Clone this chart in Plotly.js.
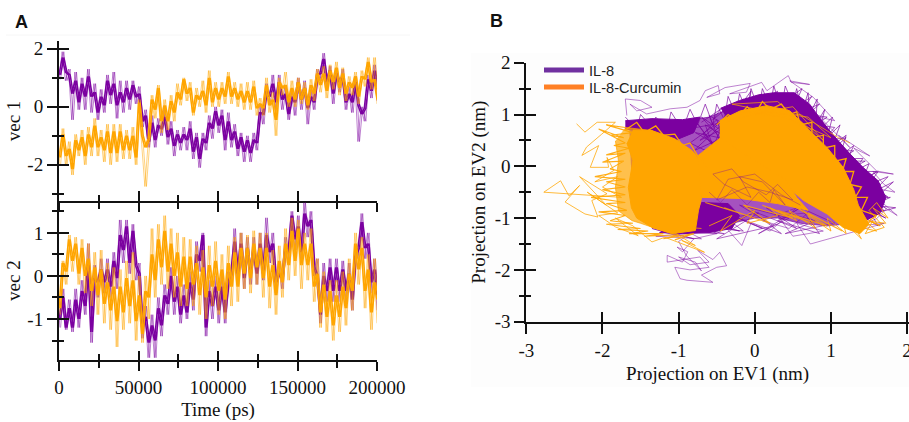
<!DOCTYPE html>
<html>
<head>
<meta charset="utf-8">
<script src="https://cdn.plot.ly/plotly-3.0.1.min.js"></script>
<style>html,body{margin:0;padding:0;background:#fff;}#chart{width:909px;height:422px;}</style>
</head>
<body>
<div id="chart"></div>
<script>
const time = [0,2000,4000,6000,8000,10000,12000,14000,16000,18000,
20000,22000,24000,26000,28000,30000,32000,34000,36000,38000,
40000,42000,44000,46000,48000,50000,52000,54000,56000,58000,
60000,62000,64000,66000,68000,70000,72000,74000,76000,78000,
80000,82000,84000,86000,88000,90000,92000,94000,96000,98000,
100000,102000,104000,106000,108000,110000,112000,114000,116000,118000,
120000,122000,124000,126000,128000,130000,132000,134000,136000,138000,
140000,142000,144000,146000,148000,150000,152000,154000,156000,158000,
160000,162000,164000,166000,168000,170000,172000,174000,176000,178000,
180000,182000,184000,186000,188000,190000,192000,194000,196000,198000,200000];

const vec1PurpleCore = [1.1,1.7,1.2,1.1,.45,.9,.15,.8,.35,1.05,
.35,.5,-.2,.35,.05,.9,.4,.8,.05,.5,
.15,.65,.25,.75,.35,.45,-.5,-.3,-1.2,-.55,
-1.15,-.65,-.75,-.35,-1.05,-.75,-1.35,-.95,-1.25,-.95,
-1.15,-.75,-1.55,-1.05,-1.8,-1.1,-1.25,-.55,-.75,-.15,
-.65,-.3,-1.15,-.5,-1.15,-.85,-1.45,-1.05,-1.55,-1.15,
-1.6,-1.15,-1.25,-.2,-.25,.55,.35,.8,.15,.85,
.25,.45,-.25,.35,.15,.85,.25,.65,-.05,.35,
.15,1.1,1.15,1.65,.85,1.25,.45,1.15,.85,1.05,
.15,.45,.15,.85,.05,-.25,-.05,.95,.55,1.25,.6];
const vec1PurpleSpike = [.95,1.9,.9,1.3,-.45,1.2,-.1,1.0,-.1,1.3,
-.2,.8,-.45,.6,-.2,1.1,.1,1.2,-.4,.9,
-.2,.9,-.1,.9,.1,.7,-.7,-.1,-1.4,-.3,
-1.4,-.4,-1.0,-.1,-1.3,-.5,-1.7,-.8,-1.5,-.7,
-1.5,-.5,-1.8,-.9,-2.1,-.9,-1.5,-.3,-1.1,0,
-.9,-.1,-1.5,-.2,-1.4,-.6,-1.7,-.9,-1.9,-1.0,
-1.9,-.9,-1.5,.1,-.6,.8,.1,1.1,-.1,1.1,
-.1,.7,-.45,.6,-.3,1.0,-.1,.9,-.6,.6,
-.1,1.3,.9,1.85,.6,1.4,.1,1.3,.5,1.3,
-.1,.7,-.2,1.05,-1.2,0,-.5,1.1,.3,1.45,.2];
const vec1OrangeCore = [-1.75,-.95,-1.7,-1.45,-2.15,-1.15,-1.5,-1.05,-1.7,-.95,
-1.4,-.65,-1.4,-1.05,-1.5,-.85,-1.6,-.85,-1.6,-.85,
-1.5,-1.0,-1.5,-1.0,-1.75,.15,-1.0,-1.4,-1.1,.25,
-.1,.65,-.5,.05,-.5,.2,-.2,.5,.25,.95,
.45,.65,-.2,.4,.25,.55,.05,1.0,.15,.65,
.25,.65,.35,1.05,.35,.65,.25,.55,.15,.55,
.15,.7,-.05,.1,-.05,.75,.05,.25,-.45,.85,
.65,.75,.15,.65,.25,.85,.25,.65,.05,.75,
.45,1.15,.75,1.15,.55,1.25,.85,1.35,.65,1.15,
.45,.85,.65,1.05,.35,1.05,.95,1.55,.85,.95,.25];
const vec1OrangeSpike = [-2.0,-.75,-2.0,-1.2,-2.35,-.95,-1.7,-.8,-2.0,-.7,
-1.7,-.4,-1.7,-.8,-1.9,-.6,-2.0,-.6,-1.9,-.6,
-1.8,-.8,-1.8,-.7,-2.0,.25,-1.3,-2.75,-1.3,.4,
-.4,.75,-.9,.25,-.8,.4,-.5,.8,.05,1.0,
.2,.85,-.3,.65,0,.9,-.2,1.25,0,.85,
0,.85,.1,1.2,.1,.85,0,.8,-.1,.85,
-.1,.9,-.3,.3,-.3,1.0,-.2,.5,-1.0,1.0,
.4,1.2,0,.9,0,1.0,.1,.85,-.1,.95,
.2,1.3,.5,1.4,.3,1.45,.6,1.55,.4,1.35,
.2,1.05,.4,1.2,.1,1.25,.7,1.7,.6,1.7,.1];

const vec2PurpleCore = [-1.0,-.5,-1.2,-.75,-1.2,-.55,-1.0,-.35,-.7,.35,
-1.3,-.05,-.15,.15,-.15,.15,-.25,.35,-.05,.95,
.6,1.15,.3,1.05,.25,.05,-1.2,-.95,-1.55,-1.15,
-1.5,-.75,-1.15,-.45,-.65,0,-.6,-.25,-.9,-.45,
-.85,-.15,-.55,.5,.35,.95,-1.2,-.35,-.7,-.25,
-.8,-.25,-.85,-.15,.05,.8,.05,.75,-.05,.65,
.05,.65,.05,.75,.05,.95,.55,.75,-.15,.05,
-.05,.65,.55,1.4,.85,1.15,.55,1.45,1.15,1.3,
.2,0,-.9,0,-.35,.2,-.35,.2,-.35,.15,
-.35,.05,-.55,.45,.65,1.25,.65,.75,-.15,.15,-.5];
const vec2PurpleSpike = [-1.2,-.3,-1.25,-.55,-1.3,-.3,-1.2,-.1,-.9,.75,
-1.55,.25,-.5,.4,-.4,.4,-.5,.55,-.3,1.3,
.3,1.3,.05,1.2,-.1,.3,-1.45,-.7,-1.9,-.9,
-1.9,-.5,-1.4,-.2,-.9,.2,-.9,0,-1.1,-.2,
-1.0,.1,-.8,.8,.1,1.0,-1.4,-.1,-1.0,0,
-1.1,0,-1.1,.1,-.2,1.1,-.2,1.0,-.3,.9,
-.2,.9,-.2,1.0,-.1,1.35,.3,1.0,-.4,.3,
-.3,.9,.3,1.5,.6,1.4,.3,1.7,.9,1.5,
0,.4,-1.1,.3,-.6,.4,-.6,.4,-.6,.35,
-.6,.3,-.8,.7,.4,1.45,.4,1.0,-.4,.4,-.8];
const vec2OrangeCore = [-.75,.3,.1,.85,.35,.75,.05,.65,0,.4,
-.35,.2,-.45,.15,-.65,-.15,-.8,-.25,-1.05,-.25,
-.85,-.05,-.7,-.1,-1.05,-.45,-1.35,-.35,-.5,.5,
-.1,.85,.2,1.05,.1,.75,0,.55,-.25,.45,
-.3,.45,-.2,.3,-.45,.2,-.5,.25,-.25,.35,
-.35,.15,-.55,.3,-.25,.55,-.25,.65,.05,.65,
-.05,.75,.2,.65,-.05,.65,-.25,.25,-.45,.35,
-.15,.75,.25,1.05,.35,1.1,.25,.75,.25,.75,
-.25,.05,-.85,-.2,-.95,-.35,-1.15,-.45,-.95,-.25,
-.75,.05,-.35,.75,.15,.65,-.35,.15,-.85,-.15,-.55];
const vec2OrangeSpike = [-.9,.35,-.2,.95,.1,.9,-.2,.85,-.4,.75,
-.7,.55,-.9,.6,-1.1,.3,-1.25,.2,-1.65,.15,
-1.25,.35,-1.1,.55,-1.5,0,-1.55,0,-1.0,1.1,
-.5,1.2,-.2,1.4,-.3,1.1,-.5,1.0,-.7,.9,
-.7,.85,-.7,.7,-.9,.6,-1.0,.7,-.7,.8,
-.9,.5,-1.0,.7,-.7,.9,-.6,1.0,-.3,.95,
-.4,1.05,-.2,1.0,-.5,1.0,-.75,.6,-.9,.7,
-.5,1.1,-.1,1.35,0,1.3,-.3,1.0,-.1,1.1,
-.6,.4,-1.2,.1,-1.3,-.1,-1.5,-.1,-1.3,.1,
-1.15,.4,-.8,1.0,-.2,.9,-.75,.5,-1.25,.4,-1.1];

// Panel B: dense regions of the projection, read as outlines
const il8CloudX = [-1.65,-1.3,-.9,-.6,-.35,0,.3,.55,.75,.95,1.2,1.4,1.6,1.7,1.6,1.3,.95,.6,.3,0,-.3,-.6,-.95,-1.3,-1.6];
const il8CloudY = [.8,.88,.88,.95,1.1,1.25,1.35,1.35,1.1,.75,.3,0,-.35,-.7,-.95,-1.1,-1.15,-1.1,-1.0,-1.0,-1.1,-1.15,-1.2,-1.1,-.8];
const il8LeftBandX = [-1.7,-1.35,-.95,-.72,-.8,-1.05,-1.35,-1.7];
const il8LeftBandY = [.88,.92,.9,.95,.65,.5,.65,.72];
const il8RightBandX = [-.45,-.2,.05,.25,.52,.72,.88,1.03,1.25,1.42,1.62,1.72,1.65,1.45,1.2,1.0,.5,0,-.35];
const il8RightBandY = [1.12,1.27,1.38,1.42,1.42,1.2,.88,.6,.24,-.02,-.28,-.6,-.9,-1.05,-.8,-.2,.5,.9,.9];
const il8CoreX = [-.7,-.35,-.2,-.3,-.6,-.95,-1.25,-.8];
const il8CoreY = [-.7,-.72,-.95,-1.2,-1.28,-1.3,-1.28,-1.0];
const curHazeX = [-1.7,-1.35,-1.0,-1.3,-1.5,-1.61,-1.79,-1.83,-1.79,-1.83];
const curHazeY = [.75,.69,.3,-1.2,-1.1,-1.05,-.86,-.41,.11,.49];
const curLeftX = [-1.6,-1.35,-1.05,-.82,-.61,-.69,-.74,-.78,-1.09,-1.35,-1.55,-1.62,-1.66,-1.6,-1.68];
const curLeftY = [.7,.69,.53,.3,-.08,-.53,-.86,-1.24,-1.3,-1.18,-1.0,-.8,-.41,.11,.45];
const curRightX = [-.46,-.19,.16,.46,.68,.95,1.16,1.3,1.36,1.5,1.38,1.16,.95,.64,.38,.11,-.15,-.46];
const curRightY = [.88,1.07,1.17,1.07,.75,.36,-.02,-.45,-.75,-1.12,-1.3,-1.18,-.92,-.66,-.33,-.14,.05,.11];
const curMidX = [-.75,-.45,-.1,.4,.55,.7,.3,-.2,-.7];
const curMidY = [.2,.55,.2,-.25,-.6,-.85,-.72,-.62,-.6];
// Panel B: visible path of each trajectory around the dense regions
const il8PathX = [-1.68,-1.7,-1.5,-1.35,-1.55,-1.64,-1.42,-1.11,-.89,-.72,-.65,-.48,-.46,-.63,-.39,-.06,-.11,-.33,.09,.16,.44,.48,.72,.46,.77,.92,1.05,.85,1.25,1.1,1.51,1.3,1.6,1.82,1.55,1.69,1.84,1.5,1.69,1.87,1.6,1.73,1.6,1.38,1.7,
.73,.55,.9,.5,.3,.7,.45,.1,.55,.2,-.05,-.17,-.4,-.1,-.5,-.8,-.95,-1.02,-.88,-.95,-1.15,-1.15,-.9,-.72,-.6,-.85,-1.05,-.98,-.89,-.55,-.7,-.5,-.37,-.46,-.55,-.75,-.6,-.85,-1.0,-.78,-.7,-.9,-1.0,-.85,-1.3,-.7,-1.1,-.4,-.9,-1.25];
const il8PathY = [.98,1.3,1.27,1.14,1.07,1.2,1.01,1.11,1.14,1.27,1.46,1.56,1.4,1.33,1.52,1.6,1.43,1.4,1.62,1.46,1.75,1.62,1.58,1.65,1.33,1.08,.88,.95,.36,.6,.2,.35,-.09,-.15,-.1,-.34,-.5,-.4,-.72,-.95,-.7,-.82,-1.01,-1.15,-1.1,
-1.5,-1.1,-1.25,-1.35,-.95,-.9,-1.2,-1.05,-.8,-1.25,-1.1,-1.53,-1.15,-.95,-1.3,-1.4,-1.65,-1.56,-1.65,-1.85,-1.72,-1.85,-1.8,-1.75,-1.95,-2.0,-1.95,-2.17,-2.2,-2.24,-2.1,-1.95,-1.92,-1.66,-1.8,-1.62,-1.85,-1.9,-1.75,-1.85,-2.02,-1.72,-1.45,-1.3,-1.35,-1.4,-1.1,-1.3,-1.25,-1.0];
const il8EdgeX = [-1.7,-1.55,-1.5,-1.35,-1.3,-1.15,-1.1,-.95,-.85,-.75,
-.65,-.55,-.5,-.4,-.35,-.25,-.2,-.1,-.05,.05,
.1,.2,.25,.35,.4,.5,.55,.62,.7,.72,
.82,.8,.92,.85,1.02,.95,1.12,1.02,1.2,1.12,
1.3,1.22,1.42,1.3,1.5,1.42,1.62,1.5,1.75,1.55,
1.82,1.6,1.78,1.55,1.85,1.6,1.72,1.5,1.62,1.4,
1.7,1.35,1.55,1.25,1.65,1.3,1.75,1.45,1.6,1.2,
1.45,1.1,1.3,1.0,1.2,.9,1.05,.8,.95,.7,
.85,.6,.75,.5,.62,.35,.5,.2,.3,.05,
.1,-.1,-.05,-.25,-.15,-.4,-.3,-.55,-.45,-.7];
const il8EdgeY = [.95,.72,1.0,.75,.95,.7,1.05,.7,1.1,.8,
1.2,.8,1.2,.9,1.35,1.0,1.4,1.05,1.5,1.1,
1.5,1.15,1.55,1.1,1.55,1.2,1.5,1.05,1.42,1.0,
1.3,.8,1.1,.7,.95,.55,.8,.4,.6,.2,
.4,.15,.15,-.1,.05,-.25,-.1,-.35,-.2,-.5,
-.3,-.6,-.6,-.75,-.8,-.9,-1.0,-.85,-1.15,-.95,
-.85,-.65,-.45,-.35,-.35,-.1,-.6,-.25,-.1,-.1,
.1,.1,.3,.3,.55,.5,.75,.8,.95,1.0,
1.2,1.05,1.35,1.1,1.5,1.2,1.4,1.1,1.45,1.2,
1.35,1.0,1.45,1.05,1.3,.95,1.2,.9,1.1,.85];
const il8MeshX = [-.9,-.4,-.75,-.15,-.55,.1,-.3,.35,-.05,.55,.15,.8,.4,1.05,.6,.85,.3,.6,.05,.45,-.2,.25,-.5,.05,-.7,-.2,-.95,-.5,-1.2,-.8,-1.35,-1.0];
const il8MeshY = [-1.3,-.95,-1.15,-1.25,-.8,-1.2,-.95,-1.3,-.85,-1.2,-.8,-1.05,-1.3,-1.1,-.8,-1.3,-1.05,-.8,-1.3,-1.0,-.75,-1.15,-1.4,-.9,-1.1,-1.25,-.95,-1.3,-1.25,-1.4,-1.2,-1.35];
const curPathX = [-2.34,-2.23,-2.07,-1.83,-2.01,-2.21,-2.27,-2.05,-2.16,-1.92,-1.94,-1.85,-2.1,-1.8,-2.0,-1.75,-2.77,-2.55,-2.44,-2.3,-2.49,-2.23,-2.06,-2.14,-1.94,-2.3,-1.95,-2.2,-1.8,-2.05,-1.83,-1.53,-1.83,-1.6,-1.35,-1.18,-.66,-.96,-.78,-1.2,-.7];
const curPathY = [.82,.66,.85,.85,.62,.37,.21,.4,-.02,-.02,.17,-.08,-.3,-.2,-.4,-.6,-.5,-.28,-.57,-.37,-.69,-.92,-.98,-.66,-.53,-.2,-.75,-.5,-.9,-.95,-1.17,-1.34,-1.0,-1.15,-1.46,-1.37,-1.66,-1.43,-1.53,-1.15,-1.2];
const curFringeX = [-1.7,-1.95,-1.6,-1.9,-1.72,-2.05,-1.7,-1.85,-1.65,-1.95,-1.7,-2.0,-1.72,-1.9,-1.75,-2.1,-1.7,-1.95,-1.7,-2.0,-1.7,-2.15,-1.7,-1.95,-1.68,-2.05,-1.7,-1.9,-1.6,-1.95,-1.5,-1.8,-1.4,-1.65,-1.2,-1.45,-1.0,-1.2,-.8,-1.05];
const curFringeY = [.75,.8,.65,.6,.55,.72,.45,.4,.35,.22,.25,.08,.1,-.05,-.1,-.2,-.25,-.3,-.4,-.45,-.55,-.6,-.7,-.72,-.85,-.88,-.95,-1.05,-1.1,-1.12,-1.2,-1.22,-1.25,-1.3,-1.3,-1.35,-1.32,-1.4,-1.3,-1.42];
const curLowX = [-.6,-.3,-.45,0,-.1,.3,.2,.55,.45,.8,.7,1.0,.95,1.2,1.15,1.4,1.3,1.6,1.45,1.72,1.55,1.75,1.6,1.5,1.7,1.45,1.55,1.35,1.3];
const curLowY = [-1.15,-.95,-1.25,-.85,-1.1,-.95,-.8,-1.05,-.85,-1.2,-.95,-1.25,-1.0,-1.3,-1.05,-1.4,-1.15,-1.25,-1.05,-1.1,-.8,-1.0,-.7,-.85,-1.18,-1.3,-1.05,-1.2,-.75];
const curTopX = [-.4,.1,.5,.9,.3,-.3,.2,.7,1.0,.4,-.2,.6,1.1,1.25];
const curTopY = [.85,1.05,1.15,.5,1.25,1.2,1.05,.95,.55,.95,1.05,1.0,.55,.45];
const curRightEdgeX = [-.5,-.35,-.25,-.1,0,.1,.2,.35,.45,.55,.6,.75,.75,.9,.9,1.05,1.05,1.2,1.15,1.3,1.25,1.4,1.32,1.48,1.4,1.6,1.5,1.65];
const curRightEdgeY = [.8,1.0,.9,1.15,1.0,1.25,1.1,1.2,1.0,1.05,.8,.85,.55,.6,.35,.4,.1,.15,-.1,-.1,-.35,-.4,-.6,-.6,-.85,-.95,-1.05,-1.15];
const curLeftEdgeX = [-1.7,-1.55,-1.45,-1.3,-1.2,-1.05,-.95,-.85,-.75,-.7,-.62];
const curLeftEdgeY = [.7,.85,.65,.78,.6,.62,.4,.45,.2,.15,-.05];
const curBottomMeshX = [-.65,-.1,-.4,.2,-.15,.5,.1,.75,.3,.95,.55,1.15,.7];
const curBottomMeshY = [-.7,-.95,-.8,-1.1,-.75,-1.0,-.75,-1.1,-.85,-1.15,-.8,-1.25,-.9];
// Panel B: first trajectory seen through the second where they mix
const il8MixX = [-.6,-.45,-.3,-.1,.05,.2,.25,.4,.1,-.2,-.05,-.4,-.55,-.3,-.15,.15,.3,.5,.2,-.1,-.5,-.35,0,.35,.6];
const il8MixY = [-.5,-.7,-.45,-.75,-.5,-.7,-.45,-.75,-.3,-.2,-.6,-.35,-.15,-.05,-.3,-.55,-.35,-.65,-.5,-.4,-.65,-.25,-.15,-.55,-.75];
const il8UpperMixX = [-.88,-.4,-.8,-.35,-.7,-.3,-.6,-.45,-.72,-.38,-.85,-.5,-.65,-.3,-.78,-.42,-.6,-.32,-.55,-.75,-.4,-.68,-.5,-.35];
const il8UpperMixY = [.72,.85,.3,.6,.95,.3,.2,.7,.5,.95,.45,.2,.8,.5,.65,.35,.98,.75,.4,.82,.15,.62,.9,.25];

const yTickVecOne = [2,0,-2];
const yTickVecOneText = ['2','0','-2'];
const yTickVecTwo = [1,0,-1];
const yTickVecTwoText = ['1','0','-1'];
const xTickTime = [0,50000,100000,150000,200000];
const xTickTimeText = ['0','50000','100000','150000','200000'];
const xTickEv = [-3,-2,-1,0,1,2];
const xTickEvText = ['-3','-2','-1','0','1','2'];
const yTickEv = [2,1,0,-1,-2,-3];
const yTickEvText = ['2','1','0','-1','-2','-3'];

const PURPLE = '#7b00a0', ORANGE = '#ffa500';
const PURPLE_PALE = 'rgba(123,0,160,0.5)', ORANGE_PALE = 'rgba(255,165,0,0.5)';
const W = 909, H = 422;
const serif = '"Liberation Serif", serif';
const sans = '"Liberation Sans", Arial, sans-serif';
const INK = '#111';
const fx = p => p / W, fy = p => 1 - p / H;
// half a sampling step, so the alternating samples interleave into a dense band
const timeBetween = time.map(t => t + 1000);

function strand(x, y, color, w, xa, ya) {
  return {x: x, y: y, mode: 'lines', line: {color: color, width: w}, xaxis: xa, yaxis: ya, showlegend: false, hoverinfo: 'skip'};
}
function seriesTraces(spike, core, pale, solid, xa, ya) {
  return [
    strand(time, spike, pale, 1, xa, ya),
    strand(timeBetween, spike, pale, 1, xa, ya),
    strand(time, core, solid, 1.5, xa, ya),
    strand(timeBetween, core, solid, 1.5, xa, ya)
  ];
}
function area(x, y, color) {
  return {x: x, y: y, mode: 'lines', fill: 'toself', fillcolor: color, line: {color: color, width: 1}, xaxis: 'x3', yaxis: 'y3', showlegend: false, hoverinfo: 'skip'};
}
function path(x, y, color, w) {
  return strand(x, y, color, w, 'x3', 'y3');
}
function ghost(xa, ya) {
  return {x: [null], y: [null], mode: 'lines', xaxis: xa, yaxis: ya, showlegend: false, hoverinfo: 'skip'};
}

const traces = [].concat(
  seriesTraces(vec1PurpleSpike, vec1PurpleCore, PURPLE_PALE, PURPLE, 'x', 'y'),
  seriesTraces(vec1OrangeSpike, vec1OrangeCore, ORANGE_PALE, ORANGE, 'x', 'y'),
  seriesTraces(vec2PurpleSpike, vec2PurpleCore, PURPLE_PALE, PURPLE, 'x2', 'y2'),
  seriesTraces(vec2OrangeSpike, vec2OrangeCore, ORANGE_PALE, ORANGE, 'x2', 'y2'),
  [
    path(il8PathX, il8PathY, 'rgba(123,0,160,0.55)', 0.9),
    path(il8EdgeX, il8EdgeY, 'rgba(123,0,160,0.75)', 0.9),
    path(il8MeshX, il8MeshY, 'rgba(123,0,160,0.65)', 0.9),
    area(il8CloudX, il8CloudY, 'rgba(123,0,160,0.68)'),
    area(il8LeftBandX, il8LeftBandY, PURPLE),
    area(il8RightBandX, il8RightBandY, PURPLE),
    area(il8CoreX, il8CoreY, PURPLE),
    path(il8UpperMixX, il8UpperMixY, 'rgba(123,0,160,0.8)', 0.9),
    path(curPathX, curPathY, 'rgba(255,165,0,0.85)', 0.9),
    path(curFringeX, curFringeY, 'rgba(255,165,0,0.9)', 1.1),
    path(curLowX, curLowY, 'rgba(255,165,0,0.85)', 1),
    path(curBottomMeshX, curBottomMeshY, 'rgba(255,165,0,0.85)', 1.1),
    area(curHazeX, curHazeY, 'rgba(255,165,0,0.7)'),
    area(curLeftX, curLeftY, ORANGE),
    area(curRightX, curRightY, ORANGE),
    area(curMidX, curMidY, ORANGE),
    path(curTopX, curTopY, 'rgba(255,165,0,0.8)', 0.9),
    path(curRightEdgeX, curRightEdgeY, ORANGE, 1.3),
    path(curLeftEdgeX, curLeftEdgeY, ORANGE, 1.3),
    path(il8MixX, il8MixY, 'rgba(123,0,160,0.45)', 0.8),
    {x: [null], y: [null], name: 'IL-8', mode: 'lines', line: {color: '#7030a0', width: 5}, xaxis: 'x3', yaxis: 'y3', legend: 'legend'},
    {x: [null], y: [null], name: 'IL-8-Curcumin', mode: 'lines', line: {color: '#ff8025', width: 5}, xaxis: 'x3', yaxis: 'y3', legend: 'legend2'},
    ghost('x4', 'y4'), ghost('x5', 'y5'), ghost('x6', 'y6')
  ]
);

function axis(o) {
  const a = {
    domain: o.domain, range: o.range, anchor: o.anchor, showgrid: false, zeroline: false,
    showline: !o.overlaying, linecolor: INK, linewidth: 2,
    ticks: o.overlaying ? 'inside' : 'outside', ticklen: o.len, tickwidth: 2, tickcolor: INK,
    tickmode: 'array', tickvals: o.vals, ticktext: o.text || o.vals.map(String),
    showticklabels: !!o.labels && !o.overlaying,
    tickfont: {family: serif, size: 19, color: INK},
    ticklabeloverflow: 'allow',
    fixedrange: true
  };
  if (o.labels && o.standoff !== undefined) a.ticklabelstandoff = o.standoff;
  if (o.minor) a.minor = {ticks: o.overlaying ? 'inside' : 'outside', ticklen: o.minorLen, tickwidth: 2, tickcolor: INK, dtick: o.minor, tick0: 0, showgrid: false};
  if (o.overlaying) a.overlaying = o.overlaying;
  if (o.title) a.title = {text: o.title, font: {family: serif, size: 19, color: INK}, standoff: o.titleStand};
  return a;
}
function legendAt(top) {
  return {x: fx(539), y: fy(top), xanchor: 'left', yanchor: 'top', bgcolor: 'rgba(0,0,0,0)', borderwidth: 0, itemwidth: 40,
    font: {family: sans, size: 14.6, color: '#222'}};
}

const xDomA = [fx(59), fx(377)], xDomB = [fx(526.3), 1];
const yDomTop = [fy(201), fy(41)], yDomBot = [fy(360.3), fy(201)], yDomB = [fy(321.7), fy(62.7)];
const rangeTime = [0, 200000], rangeV1 = [-3.25, 2.27], rangeV2 = [-1.96, 1.74], rangeEvX = [-3, 2.025], rangeEvY = [-3, 2];

const layout = {
  width: W, height: H, margin: {l: 0, r: 0, t: 0, b: 0}, paper_bgcolor: '#fff', plot_bgcolor: 'rgba(0,0,0,0)',
  showlegend: true,
  legend: legendAt(54),
  legend2: legendAt(71),
  xaxis:  axis({domain: xDomA, range: rangeTime, anchor: 'y',  len: 9, vals: xTickTime, minor: 25000, minorLen: 6}),
  xaxis4: axis({domain: xDomA, range: rangeTime, anchor: 'y4', len: 10, vals: xTickTime, minor: 25000, minorLen: 6, overlaying: 'x'}),
  yaxis:  axis({domain: yDomTop, range: rangeV1, anchor: 'x', len: 10, vals: yTickVecOne, text: yTickVecOneText, minor: 1, minorLen: 5, labels: true, title: 'vec 1', titleStand: 2}),
  yaxis4: axis({domain: yDomTop, range: rangeV1, anchor: 'x4', len: 10, vals: yTickVecOne, minor: 1, minorLen: 5, overlaying: 'y'}),
  xaxis2: axis({domain: xDomA, range: rangeTime, anchor: 'y2', len: 9, vals: xTickTime, text: xTickTimeText, minor: 25000, minorLen: 6, labels: true, standoff: 0, title: 'Time (ps)', titleStand: 6}),
  xaxis5: axis({domain: xDomA, range: rangeTime, anchor: 'y5', len: 9, vals: xTickTime, minor: 25000, minorLen: 6, overlaying: 'x2'}),
  yaxis2: axis({domain: yDomBot, range: rangeV2, anchor: 'x2', len: 10, vals: yTickVecTwo, text: yTickVecTwoText, minor: 0.5, minorLen: 5, labels: true, title: 'vec 2', titleStand: 2}),
  yaxis5: axis({domain: yDomBot, range: rangeV2, anchor: 'x5', len: 10, vals: yTickVecTwo, minor: 0.5, minorLen: 5, overlaying: 'y2'}),
  xaxis3: axis({domain: xDomB, range: rangeEvX, anchor: 'y3', len: 10, vals: xTickEv, text: xTickEvText, labels: true, standoff: 0, title: 'Projection on EV1 (nm)', titleStand: 7}),
  xaxis6: axis({domain: xDomB, range: rangeEvX, anchor: 'y6', len: 10, vals: xTickEv, overlaying: 'x3'}),
  yaxis3: axis({domain: yDomB, range: rangeEvY, anchor: 'x3', len: 10, vals: yTickEv, text: yTickEvText, minor: 0.5, minorLen: 5, labels: true, title: 'Projection on EV2 (nm)', titleStand: 4}),
  yaxis6: axis({domain: yDomB, range: rangeEvY, anchor: 'x6', len: 10, vals: yTickEv, minor: 0.5, minorLen: 5, overlaying: 'y3'}),
  annotations: [
    {text: '<b>A</b>', xref: 'paper', yref: 'paper', x: fx(21), y: fy(22), xanchor: 'center', yanchor: 'middle', showarrow: false, font: {family: sans, size: 18, color: '#111'}},
    {text: '<b>B</b>', xref: 'paper', yref: 'paper', x: fx(496), y: fy(21), xanchor: 'center', yanchor: 'middle', showarrow: false, font: {family: sans, size: 18, color: '#111'}}
  ],
  shapes: [
    {type: 'rect', xref: 'paper', yref: 'paper', x0: fx(471), x1: 1, y0: fy(387), y1: fy(53), fillcolor: '#fdfdfd', line: {width: 0}, layer: 'below'},
    {type: 'line', xref: 'paper', yref: 'paper', x0: fx(6), x1: fx(410), y0: fy(35), y1: fy(35), line: {color: '#f6f6f6', width: 1}, layer: 'below'}
  ]
};

Plotly.newPlot('chart', traces, layout, {staticPlot: true, displayModeBar: false});
</script>
</body>
</html>
